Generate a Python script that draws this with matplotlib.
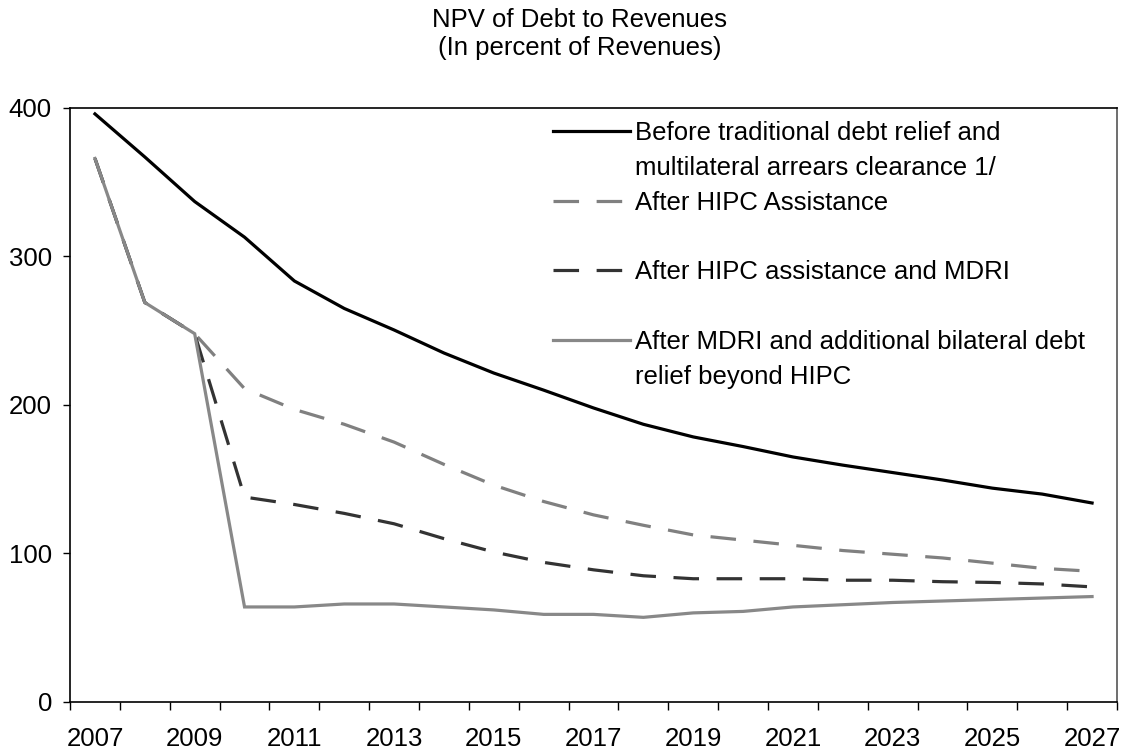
import matplotlib
matplotlib.use('Agg')
import matplotlib.pyplot as plt
from matplotlib.lines import Line2D

plt.rcParams['font.family'] = ['Liberation Sans', 'DejaVu Sans']

anios = list(range(2007, 2028))

antes_alivio = [396, 367, 337, 313, 283.5, 265, 250.5, 235, 221.5, 210, 198,
                187, 178.5, 172, 165, 159.5, 154.5, 149.5, 144, 140, 134]
despues_hipc = [366, 269, 248, 211, 197, 187, 175, 160, 146, 135, 126,
                119, 112.5, 109, 105.5, 102, 99.5, 97, 93.5, 90, 88]
despues_hipc_mdri = [366, 269, 248, 138, 133, 127, 120, 110, 101, 94, 89,
                     85, 83, 83, 83, 82, 82, 81, 80.5, 79.5, 77.5]
despues_mdri_bilateral = [366, 269, 248, 64, 64, 66, 66, 64, 62, 59, 59,
                          57, 60, 61, 64, 65.5, 67, 68, 69, 70, 71]

etiquetas = [
    ("Before traditional debt relief and", "multilateral arrears clearance 1/"),
    ("After HIPC Assistance", ""),
    ("After HIPC assistance and MDRI", ""),
    ("After MDRI and additional bilateral debt", "relief beyond HIPC"),
]

titulo = "NPV of Debt to Revenues\n(In percent of Revenues)"

TAM = 18.5


def graficar(ax):
    lw = 2.3
    guion = (0, (8, 5.5))
    estilos = [
        dict(color='black', lw=lw, ls='-'),
        dict(color='#808080', lw=lw, ls=guion),
        dict(color='#333333', lw=lw, ls=guion),
        dict(color='#888888', lw=lw, ls='-'),
    ]
    series = [antes_alivio, despues_hipc, despues_hipc_mdri, despues_mdri_bilateral]
    for serie, estilo in zip(series, estilos):
        ax.plot(anios, serie, solid_joinstyle='miter', dash_capstyle='butt', **estilo)

    ax.set_xlim(anios[0] - 0.5, anios[-1] + 0.5)
    ax.set_ylim(0, 400)
    ax.set_yticks([0, 100, 200, 300, 400])

    # eje de categorias: marcas entre anios, etiqueta cada dos
    ax.set_xticks(anios[::2])
    ax.set_xticks([a - 0.5 for a in anios] + [anios[-1] + 0.5], minor=True)
    ax.tick_params(axis='x', which='major', length=0, pad=18, labelsize=TAM)
    ax.tick_params(axis='x', which='minor', length=6, width=1, direction='out')
    ax.tick_params(axis='y', length=5, width=1, direction='out', pad=8, labelsize=TAM)

    for lado in ['left', 'bottom', 'top']:
        ax.spines[lado].set_linewidth(1.2)
    ax.spines['right'].set_color('#555555')
    ax.spines['right'].set_linewidth(1.2)

    # leyenda con la segunda linea de texto como fila sin simbolo
    manijas, textos = [], []
    for estilo, (l1, l2) in zip(estilos, etiquetas):
        manijas.append(Line2D([], [], **estilo))
        textos.append(l1)
        manijas.append(Line2D([], [], lw=0))
        textos.append(l2)
    ax.legend(manijas, textos, loc='upper left', bbox_to_anchor=(0.461, 0.978),
              frameon=False, fontsize=TAM, handlelength=3.0, handletextpad=0.2,
              labelspacing=0.42, borderpad=0, borderaxespad=0)


fig = plt.figure(figsize=(11.26, 7.55), dpi=100)
ax = fig.add_axes([0.0622, 0.0702, 0.9298, 0.7868])
graficar(ax)
fig.text(0.515, 0.99, titulo, ha='center', va='top', fontsize=TAM, linespacing=1.25)
fig.savefig('out.png', dpi=100)
